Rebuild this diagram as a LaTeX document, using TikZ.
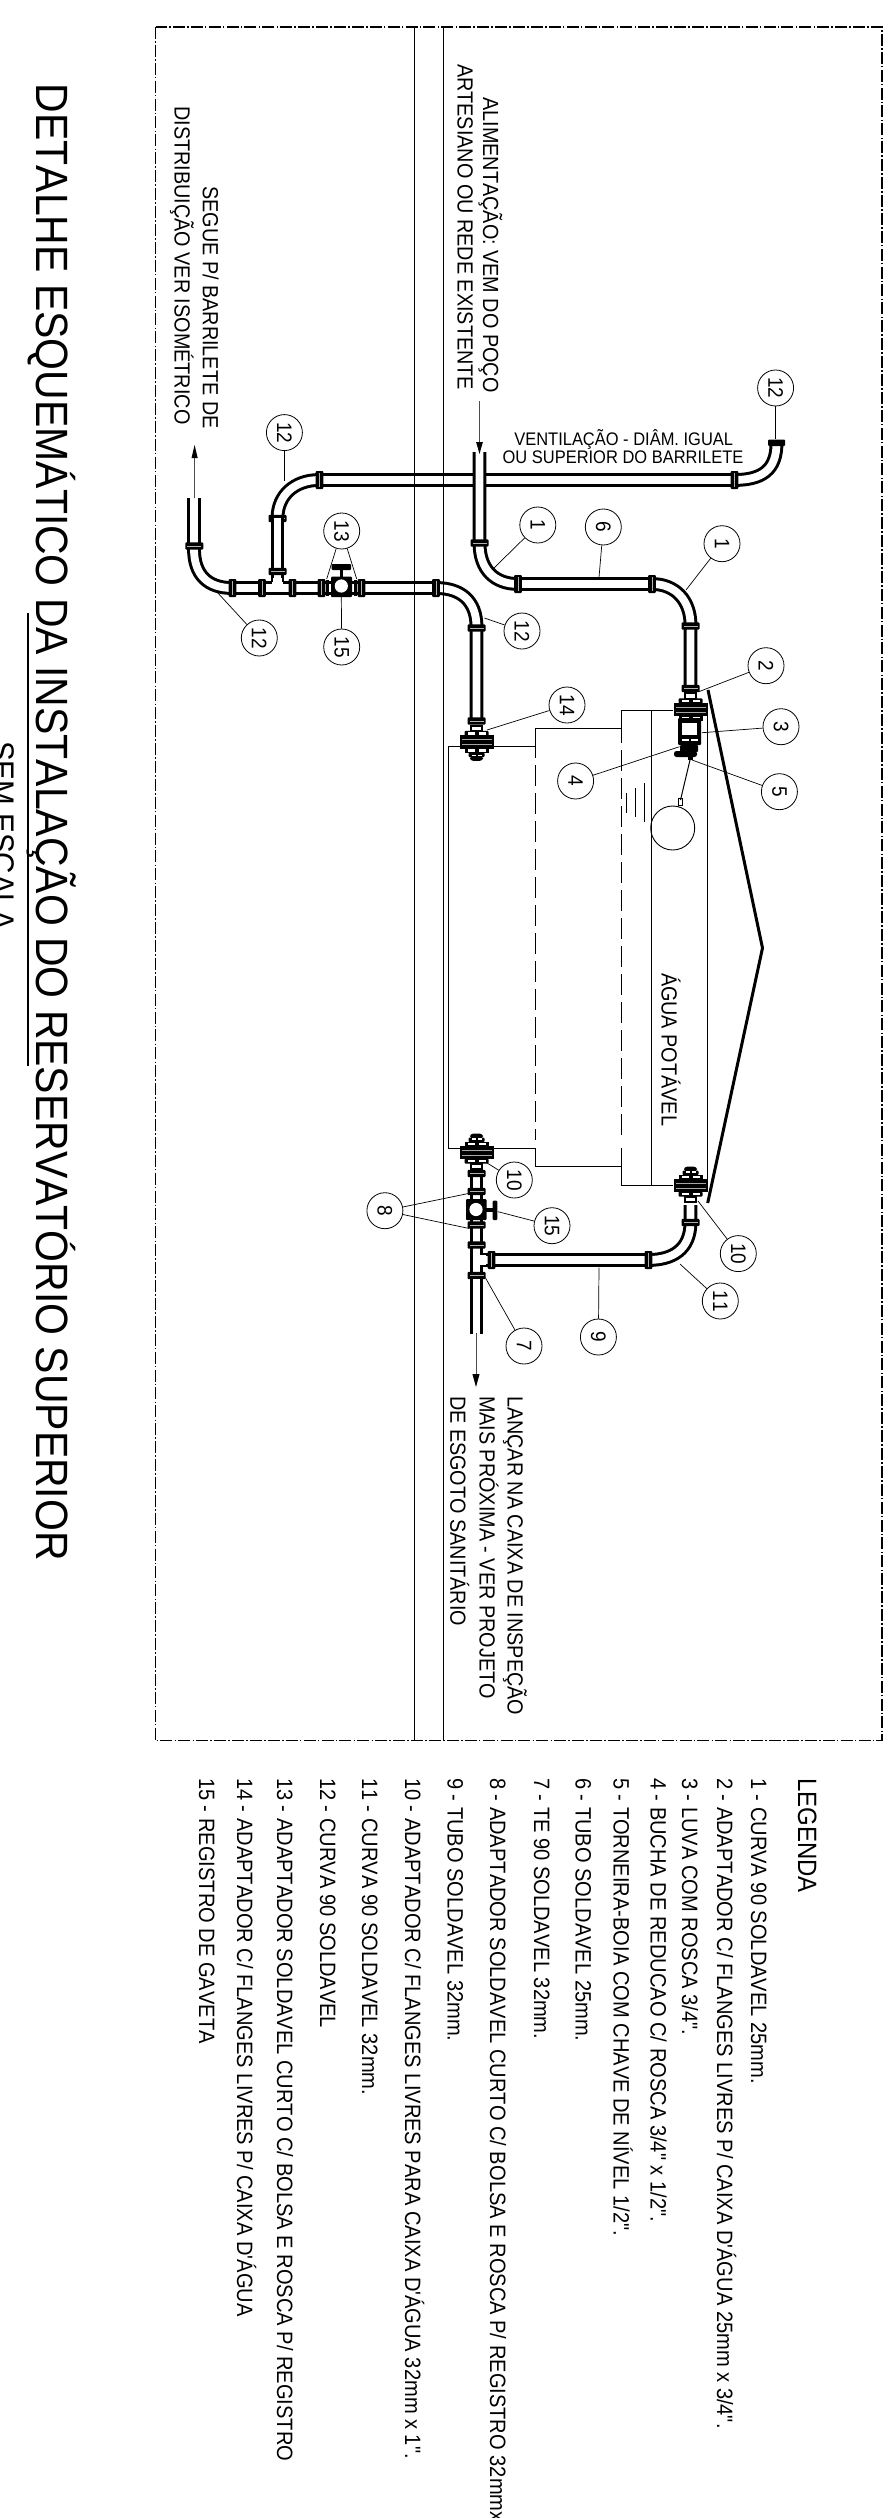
\documentclass[tikz,border=0pt]{standalone}
\usepackage{fontspec}
\newfontfamily\lib[FakeStretch=0.905,Kerning=Off]{Liberation Sans}
\newcommand\fa{\lib\fontsize{21.9}{24}\selectfont}
\newcommand\fb{\lib\fontsize{22.2}{24}\selectfont}
\newcommand\fh{\lib\fontsize{18.2}{20}\selectfont}
\newcommand\fn{\lib\fontsize{21}{24}\selectfont}
\newcommand\fl{\lib\fontsize{26.5}{28}\selectfont}
\newcommand\ft{\lib\fontsize{45.25}{48}\selectfont}
\newcommand\fs{\lib\fontsize{32.7}{36}\selectfont}
\tikzset{
 thinl/.style={draw=black,line width=0.9pt},
 framel/.style={draw=black,line width=1.1pt,dash pattern=on 12pt off 2.2pt on 1.5pt off 2.2pt},
 tankd/.style={draw=black,line width=1pt,dash pattern=on 21pt off 7pt},
 pipe/.style={draw=black,line width=3pt,double=white,double distance=7.8pt,line cap=butt},
 roof/.style={draw=black,line width=3pt,line join=miter},
 leader/.style={draw=black,line width=0.7pt},
 bubble/.style={draw=black,line width=0.8pt,circle,minimum size=36pt,inner sep=0pt,rotate=-90,font=\fn},
 rtxt/.style={rotate=-90,anchor=base west,inner sep=0pt,outer sep=0pt,font=\fa},
 rtxr/.style={rotate=-90,anchor=base east,inner sep=0pt,outer sep=0pt,font=\fa},
 htxt/.style={anchor=base,inner sep=0pt,outer sep=0pt,font=\fh},
 blk/.style={fill=black,rounded corners=1pt},
 win/.style={fill=white},
 arrowl/.style={draw=black!70,line width=0.8pt},
 tipa/.style={fill=black},
}
\newcommand\colV[2]{\fill[blk] (#1-9,#2-3.6) rectangle (#1+9,#2+3.6);\fill[gray!60] (#1-7,#2-.4) rectangle (#1+7,#2+.4);}
\newcommand\colH[2]{\fill[blk] (#1-3.8,#2-9) rectangle (#1+3.8,#2+9);\fill[gray!60] (#1-.4,#2-7) rectangle (#1+.4,#2+7);}
\newcommand\flangebase{%
 \fill[black] (-17,-6.6) rectangle (17,6.6);
 \fill[gray!70] (-15,-2.6) rectangle (15,-2.0);
 \fill[gray!70] (-15,2.0) rectangle (15,2.6);
 \fill[blk] (-12,-11.2) rectangle (12,-6);
 \fill[win] (-9,-9.8) rectangle (-2,-7.4);
 \fill[win] (2,-9.8) rectangle (9,-7.4);
 \fill[black] (-12,6) rectangle (12,11);
 \fill[win] (-9,7.4) rectangle (-2,9.6);
 \fill[win] (2,7.4) rectangle (9,9.6);
 \draw[black,line width=2pt,fill=white] (-5.5,-16.5) rectangle (5.5,-11);
}
\newcommand\flangenut{%
 \fill[blk] (-8,10.5) rectangle (8,15);
 \fill[black,rounded corners=3pt] (-6.5,14) rectangle (6.5,18.8);
 \fill[win] (-5,13) rectangle (-1,14.2);
 \fill[win] (1,13) rectangle (5,14.2);
}
\begin{document}
\begin{tikzpicture}[x=1pt,y=-1pt]
\useasboundingbox (0,0) rectangle (891,2518);
\draw[framel] (155.7,27) rectangle (882,1740.7);
% tank
\draw[thinl] (673,710) -- (621.7,710) -- (621.7,743);
\draw[tankd] (621.7,750) -- (621.7,1140);
\draw[thinl] (621.7,1148) -- (621.7,1185.3) -- (673,1185.3);
\draw[thinl] (621.7,728.3) -- (535.3,728.3) -- (535.3,758);
\draw[tankd] (535.3,765) -- (535.3,1140);
\draw[thinl] (535.3,1148) -- (535.3,1166.5);
\draw[thinl] (535.3,1166.5) -- (621.7,1166.5);
\draw[thinl] (535.3,746) -- (448.6,746) -- (448.6,1148.4) -- (535.3,1148.4);
\draw[thinl] (651.4,710) -- (651.4,1185.3);
\draw[thinl] (707.7,712) -- (707.7,1190);
\draw[roof] (708,690) -- (762.5,948) -- (707.7,1203);
\draw[thinl] (626,793) -- (626,813);
\draw[thinl] (635,788) -- (635,817);
\draw[thinl] (644,783) -- (644,822);
\draw[thinl] (672.7,828) circle (22);
\draw[line width=1pt] (690.7,757) -- (680.5,800);
\draw[line width=.7pt] (678.7,798) rectangle (682.7,805);
% vent
\draw[pipe] (277.5,518) .. controls (277.5,495) and (295,480) .. (319,480) -- (734,480) .. controls (762,480) and (776.5,470) .. (776.5,443);
\colH{319.5}{480}\colH{734.5}{480}
\fill[blk] (768,439.5) rectangle (785,446);
\colV{277.5}{518.5}
\draw[pipe] (277.5,518) -- (277.5,582);
\colV{277.5}{571.5}
% main barrel line
\draw[pipe] (194,498) -- (194,549) .. controls (194,575) and (208,588) .. (232,588) -- (436,588) .. controls (460,588) and (476.5,600) .. (476.5,627) -- (476.5,721);
\fill[white] (272.3,578) rectangle (282.7,586);
\draw[line width=2.2pt] (272,575) -- (272,581.5) (283,575) -- (283,581.5);
\colV{194.3}{546}
\colH{232.5}{588}\colH{262}{588}\colH{292.5}{588}\colH{321.5}{588}\colH{361.5}{588}\colH{436}{588}
\colV{476.5}{628}\colV{476.5}{721}
\fill[black] (326,580) rectangle (329,596);
\fill[black] (353.5,580) rectangle (356.5,596);
\fill[blk] (331,576.5) rectangle (352,597);
\fill[white] (341.3,586) circle (6.6);
\fill[black] (339.5,568) rectangle (343,578);
\fill[blk] (331.7,564) rectangle (351,570);
% feed
\draw[pipe] (479.5,452) -- (479.5,543) .. controls (479.5,570) and (495,584) .. (518,584) -- (652,584) .. controls (675,584) and (690.5,600) .. (690.5,625) -- (690.5,690);
\colV{479.5}{543}\colH{518}{584}\colH{652}{584}\colV{690.5}{626}\colV{690.5}{688.5}
% inlet flange
\begin{scope}[shift={(690.5,709.5)}]\flangebase\end{scope}
\fill[blk] (678,718) rectangle (701,745);
\fill[white] (682,723) rectangle (697,735);
\fill[white] (682,739) rectangle (689,741);
\fill[white] (691,739) rectangle (698,741);
\fill[blk] (680,745) rectangle (698,752);
\fill[black,rounded corners=2.5pt] (674,751) rectangle (697,757);
\fill[black] (688,756) rectangle (693,759.5);
\begin{scope}[shift={(476.5,742)}]\flangebase\flangenut\end{scope}
\begin{scope}[shift={(476.5,1152.5)},yscale=-1]\flangebase\flangenut\end{scope}
\draw[pipe] (476.5,1170) -- (476.5,1280);
\colV{476.5}{1173.5}\colV{476.5}{1191.5}\colV{476.5}{1225}\colV{476.5}{1245}
\fill[blk] (466,1199) rectangle (486.5,1220);
\fill[white] (476,1209.5) circle (6.6);
\fill[black] (486,1207.5) rectangle (493,1212);
\fill[blk] (492.7,1200.7) rectangle (497.3,1220);
\draw[pipe] (483,1260) -- (648,1260) .. controls (672,1260) and (690.5,1250) .. (690.5,1222) -- (690.5,1205);
\fill[white] (474,1254.6) rectangle (486,1265.4);
\colH{491.5}{1260}\colH{648.5}{1260}\colV{690.5}{1222.5}
\colV{476.5}{1275.5}
\begin{scope}[shift={(690.5,1185.5)},yscale=-1]\flangebase\flangenut\end{scope}
\draw[pipe] (476.5,1279) -- (476.5,1334);
% walls, seen through the pipes
\draw[thinl] (414.5,27) -- (414.5,1740.7);
\draw[thinl] (443,27) -- (443,1740.7);
% arrows
\coordinate (ar1) at (194.6,498);\coordinate (ar1t) at (194.6,445);
\draw[arrowl] (ar1) -- (194.6,455);
\fill[tipa] (ar1t) -- (191.5,458) -- (197.7,458) -- cycle;
\coordinate (ar2) at (479.5,401);\coordinate (ar2t) at (479.5,454);
\draw[arrowl] (ar2) -- (479.5,443);
\fill[tipa] (ar2t) -- (476.1,442) -- (482.9,442) -- cycle;
\coordinate (ar3) at (476,1333);\coordinate (ar3t) at (476,1387);
\draw[arrowl] (ar3) -- (476,1375);
\fill[tipa] (ar3t) -- (472.4,1374) -- (479.6,1374) -- cycle;
% bubbles
\node[bubble] (b12a) at (775.6,388) {12};
\node[bubble] (b12b) at (284.4,432.6) {12};
\node[bubble] (b1a) at (537.8,525) {1};
\node[bubble] (b6) at (603.3,527) {6};
\node[bubble] (b1b) at (722,543.7) {1};
\node[bubble] (b13) at (341.7,531) {13};
\node[bubble] (b15a) at (341.7,647) {15};
\node[bubble] (b12c) at (259.3,638) {12};
\node[bubble] (b12d) at (522,631) {12};
\node[bubble] (b14) at (567,705) {14};
\node[bubble] (b2) at (766,665.7) {2};
\node[bubble] (b3) at (781,726.7) {3};
\node[bubble] (b4) at (575.6,781) {4};
\node[bubble] (b5) at (779.4,791.7) {5};
\node[bubble] (b10a) at (514.3,1180) {10};
\node[bubble] (b15b) at (552,1225.7) {15};
\node[bubble] (b8) at (384.9,1210.7) {8};
\node[bubble] (b10b) at (738.3,1253.6) {10};
\node[bubble] (b11) at (720.3,1301) {11};
\node[bubble] (b9) at (598.4,1337) {9};
\node[bubble] (b7) at (524,1346) {7};
\foreach \n/\x/\y in {b12a/775.6/439,b12b/284.4/481,b1a/494/568,b6/599/577.5,b1b/686/590,
 b13/326.7/579,b13/356.7/579,b15a/341.3/596.7,b12c/216.7/591.7,b12d/484.4/618,b14/487/730,
 b2/698.8/691.7,b3/702/732.7,b4/679.5/746.7,b5/692/760,b10a/486.7/1162.7,b15b/498/1211.7,
 b8/468.8/1193.4,b8/468.8/1228.4,b10b/698/1201,b11/680/1264,b9/599/1267.5,b7/485.3/1277.6}{
 \coordinate (e) at (\x,\y);
 \draw[leader] (\n) -- (e);
}
% notes
\node[rtxr] (t1) at (483,392.6) {ALIMENTAÇÃO: VEM DO POÇO};
\node[rtxr] (t2) at (457.7,390) {ARTESIANO OU REDE EXISTENTE};
\node[rtxr] (t3) at (202.8,428.6) {SEGUE P/ BARRILETE DE};
\node[rtxr] (t4) at (174.7,424.5) {DISTRIBUIÇÃO VER ISOMÉTRICO};
\node[htxt] (t5) at (623.7,445.7) {VENTILAÇÃO - DIÂM. IGUAL};
\node[htxt] (t6) at (623,463) {OU SUPERIOR DO BARRILETE};
\node[rtxt] (t7) at (661.5,973) {ÁGUA POTÁVEL};
\node[rtxt] (t8) at (507.7,1396) {LANÇAR NA CAIXA DE INSPEÇÃO};
\node[rtxt] (t9) at (479.5,1396) {MAIS PRÓXIMA - VER PROJETO};
\node[rtxt] (t10) at (450.4,1396) {DE ESGOTO SANITÁRIO};
\node[rtxt,font=\ft] (title) at (36,84) {DETALHE ESQUEMÁTICO DA INSTALAÇÃO DO RESERVATÓRIO SUPERIOR};
\coordinate (ua) at (28,613);\coordinate (ub) at (28,1066);
\draw[line width=1.5pt] (ua) -- (ub);
\node[rtxt,font=\fs] (scale) at (-8.4,741) {SEM ESCALA};
\node[rtxt,font=\fl] (lg) at (798,1778) {LEGENDA};
\foreach \nm/\x/\txt in {
 l1/751/{1 - CURVA 90 SOLDAVEL 25mm.},
 l2/717/{2 - ADAPTADOR C/ FLANGES LIVRES P/ CAIXA D'ÁGUA 25mm x 3/4".},
 l3/682/{3 - LUVA COM ROSCA 3/4".},
 l4/650.6/{4 - BUCHA DE REDUCAO C/ ROSCA 3/4" x 1/2".},
 l5/613.6/{5 - TORNEIRA-BOIA COM CHAVE DE NÍVEL  1/2".},
 l6/575.6/{6 - TUBO SOLDAVEL 25mm.},
 l7/534/{7 - TE 90 SOLDAVEL 32mm.},
 l8/490/{8 - ADAPTADOR SOLDAVEL CURTO C/ BOLSA E ROSCA P/ REGISTRO 32mmx},
 l9/447.7/{9 - TUBO SOLDAVEL 32mm.},
 l10/405/{10 - ADAPTADOR C/ FLANGES LIVRES PARA CAIXA D'ÁGUA 32mm x 1".},
 l11/362/{11 - CURVA 90 SOLDAVEL 32mm.},
 l12/320/{12 - CURVA 90 SOLDAVEL},
 l13/277/{13 - ADAPTADOR SOLDAVEL CURTO C/ BOLSA E ROSCA P/ REGISTRO},
 l14/237/{14 - ADAPTADOR C/ FLANGES LIVRES P/ CAIXA D'ÁGUA},
 l15/199/{15 - REGISTRO DE GAVETA}}{
 \node[rtxt,font=\fb] (\nm) at (\x,1778) {\txt};
}
\end{tikzpicture}
\end{document}
